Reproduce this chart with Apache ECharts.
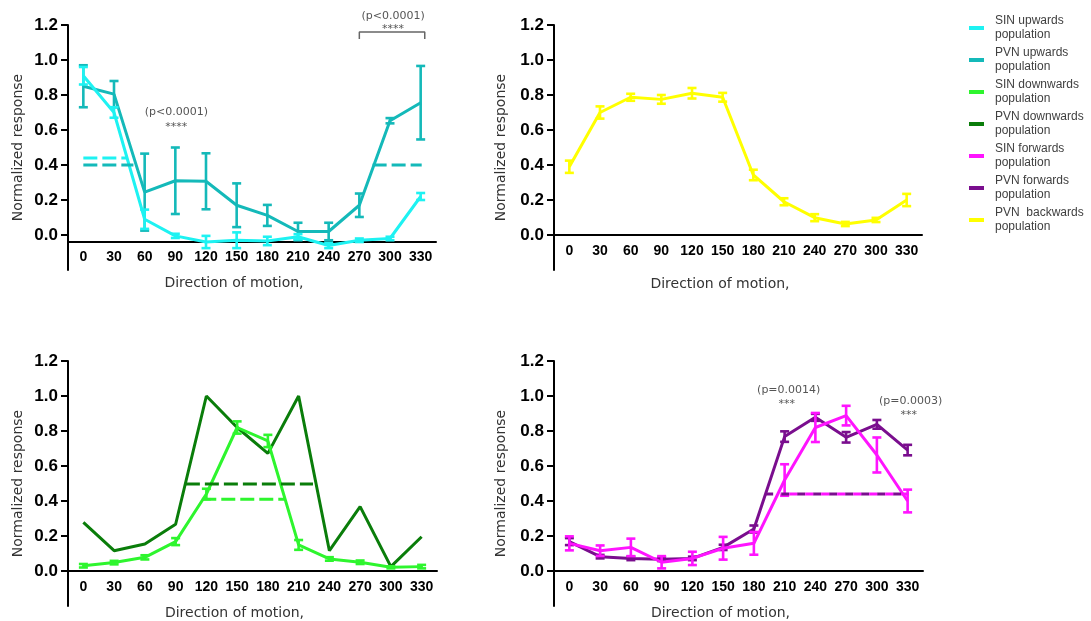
<!DOCTYPE html>
<html>
<head>
<meta charset="utf-8">
<script src="https://cdn.jsdelivr.net/npm/echarts@6/dist/echarts.min.js"></script>
<style>
  html, body { margin: 0; padding: 0; background: #fff; }
  #chart { width: 1091px; height: 621px; }
</style>
</head>
<body>
<div id="chart"></div>
<script>
// Direction of motion (degrees) and y tick values
const directions = ['0', '30', '60', '90', '120', '150', '180', '210', '240', '270', '300', '330'];
const yTicks = [0, 0.2, 0.4, 0.6, 0.8, 1.0, 1.2];

// Upwards populations (mean and SEM)
const sinUpMean = [0.91, 0.70, 0.09, -0.005, -0.04, -0.03, -0.034, -0.01, -0.06, -0.03, -0.02, 0.22];
const sinUpSem  = [0.05, 0.03, 0.055, 0.012, 0.035, 0.045, 0.024, 0.015, 0.015, 0.01, 0.01, 0.02];
const pvnUpMean = [0.85, 0.805, 0.245, 0.31, 0.307, 0.17, 0.112, 0.02, 0.02, 0.17, 0.653, 0.756];
const pvnUpSem  = [0.12, 0.075, 0.22, 0.19, 0.16, 0.125, 0.06, 0.05, 0.05, 0.067, 0.015, 0.21];

// Backwards population
const pvnBackMean = [0.39, 0.70, 0.787, 0.775, 0.81, 0.787, 0.343, 0.19, 0.099, 0.063, 0.086, 0.20];
const pvnBackSem  = [0.035, 0.035, 0.02, 0.025, 0.03, 0.025, 0.03, 0.02, 0.02, 0.012, 0.012, 0.035];

// Downwards populations
const sinDownMean = [0.03, 0.048, 0.078, 0.168, 0.44, 0.82, 0.743, 0.149, 0.069, 0.05, 0.021, 0.025];
const sinDownSem  = [0.01, 0.01, 0.012, 0.02, 0.03, 0.035, 0.035, 0.028, 0.01, 0.01, 0.006, 0.01];
const pvnDownMean = [0.278, 0.116, 0.154, 0.267, 1.0, 0.82, 0.672, 1.0, 0.116, 0.368, 0.025, 0.196];

// Forwards populations
const sinFwdMean = [0.158, 0.116, 0.135, 0.05, 0.072, 0.13, 0.158, 0.52, 0.82, 0.888, 0.663, 0.40];
const sinFwdSem  = [0.04, 0.03, 0.05, 0.035, 0.038, 0.065, 0.065, 0.09, 0.083, 0.056, 0.10, 0.065];
const pvnFwdMean = [0.168, 0.082, 0.072, 0.067, 0.072, 0.135, 0.24, 0.768, 0.878, 0.764, 0.838, 0.691];
const pvnFwdSem  = [0.02, 0.01, 0.01, 0.01, 0.01, 0.015, 0.02, 0.03, 0.02, 0.03, 0.025, 0.03];

// Half-maximum levels: [startDeg, endDeg, level]
const sinUpHalf   = [[0, 42, 0.44]];
const pvnUpHalf   = [[0, 49, 0.40], [283, 331, 0.40]];
const pvnDownHalf = [[100, 224, 0.497]];
const sinDownHalf = [[116, 196, 0.41]];
const pvnFwdHalf  = [[191, 331, 0.44]];
const sinFwdHalf  = [[206, 331, 0.44]];

// Significance annotations
const bracketUp = [[270, 1.12], [270, 1.16], [334, 1.16], [334, 1.12]];
const annotations = [
  { grid: 0, x: 91,  y: 0.70,  text: '(p<0.0001)' },
  { grid: 0, x: 91,  y: 0.615, text: '****' },
  { grid: 0, x: 303, y: 1.251, text: '(p<0.0001)' },
  { grid: 0, x: 303, y: 1.175, text: '****' },
  { grid: 3, x: 214, y: 1.034, text: '(p=0.0014)' },
  { grid: 3, x: 212, y: 0.952, text: '***' },
  { grid: 3, x: 333, y: 0.971, text: '(p=0.0003)' },
  { grid: 3, x: 331, y: 0.892, text: '***' }
];

const legendNames = [
  'SIN upwards population', 'PVN upwards population',
  'SIN downwards population', 'PVN downwards population',
  'SIN forwards population', 'PVN forwards population',
  'PVN  backwards population'
];

const colors = {
  sinUp: '#1EF2F2', pvnUp: '#14B9B9',
  sinDown: '#2EF52E', pvnDown: '#0A7D0A',
  sinFwd: '#FF14FF', pvnFwd: '#7A0E8E',
  pvnBack: '#FFFF00'
};

const Y_MIN = -0.2, Y_MAX = 1.2;
// grid boxes and where the x axis crosses the y axis
const grids = [
  { left: 68,  top: 25,  width: 368, height: 245, cross: -0.037, nameGapX: 35, nameGapY: 43 },
  { left: 554, top: 25,  width: 368, height: 245, cross: 0,      nameGapX: 42, nameGapY: 46 },
  { left: 68,  top: 361, width: 369, height: 245, cross: 0,      nameGapX: 35, nameGapY: 43 },
  { left: 554, top: 361, width: 369, height: 245, cross: 0,      nameGapX: 35, nameGapY: 46 }
];

const tickFont = 'Liberation Sans';
const titleFont = 'DejaVu Sans';

const xAxes = [], yAxes = [];
grids.forEach((g, i) => {
  const offset = -((g.cross - Y_MIN) / (Y_MAX - Y_MIN)) * g.height;
  xAxes.push({
    type: 'category', gridIndex: i, data: directions, boundaryGap: true,
    position: 'bottom', offset: offset,
    axisLine: { onZero: false, lineStyle: { color: '#000', width: 2 } },
    axisTick: { alignWithLabel: true, length: 5, lineStyle: { color: '#000', width: 2 } },
    axisLabel: { color: '#000', fontFamily: tickFont, fontWeight: 'bold', fontSize: 14, margin: 9 },
    name: 'Direction of motion,', nameLocation: 'middle', nameGap: g.nameGapX,
    nameTextStyle: { fontFamily: titleFont, fontSize: 14, color: '#333', padding: [0, 36, 0, 0] },
    splitLine: { show: false }
  });
  xAxes.push({
    type: 'value', gridIndex: i, min: -15, max: 345, show: false
  });
  yAxes.push({
    type: 'value', gridIndex: i, min: Y_MIN, max: Y_MAX, interval: 0.2,
    axisLine: { show: true, onZero: false, lineStyle: { color: '#000', width: 2 } },
    axisTick: { show: true, length: 7, customValues: yTicks, lineStyle: { color: '#000', width: 2 } },
    axisLabel: {
      customValues: yTicks, color: '#000', fontFamily: tickFont, fontWeight: 'bold',
      fontSize: 17, margin: 10,
      formatter: v => (v < -0.01 ? '' : Number(v).toFixed(1))
    },
    name: 'Normalized response', nameLocation: 'middle', nameGap: g.nameGapY,
    nameTextStyle: { fontFamily: titleFont, fontSize: 14, color: '#333' },
    splitLine: { show: false }
  });
});

function errorBarItem(params, api) {
  const x = api.value(0);
  const top = api.coord([x, api.value(2)]);
  const bot = api.coord([x, api.value(1)]);
  const hw = 4.5;
  const style = { stroke: api.visual('color'), lineWidth: 2.6 };
  return {
    type: 'group',
    children: [
      { type: 'line', shape: { x1: top[0], y1: top[1], x2: bot[0], y2: bot[1] }, style },
      { type: 'line', shape: { x1: top[0] - hw, y1: top[1], x2: top[0] + hw, y2: top[1] }, style },
      { type: 'line', shape: { x1: bot[0] - hw, y1: bot[1], x2: bot[0] + hw, y2: bot[1] }, style }
    ]
  };
}

function lineSeries(name, grid, mean, color, z) {
  return {
    name, type: 'line', xAxisIndex: grid * 2, yAxisIndex: grid,
    data: mean, showSymbol: false, symbol: 'none', z: z || 2,
    lineStyle: { color, width: 3 }, itemStyle: { color },
    emphasis: { disabled: true }
  };
}

function errorSeries(name, grid, mean, sem, color, z) {
  return {
    name: name + ' SEM', type: 'custom', xAxisIndex: grid * 2, yAxisIndex: grid,
    renderItem: errorBarItem, itemStyle: { color }, z: z || 2,
    encode: { x: 0, y: [1, 2] },
    data: mean.map((m, i) => [i, m - sem[i], m + sem[i]])
  };
}

function halfSeries(name, grid, segs, color, dash, dashOffset, z) {
  const data = [];
  segs.forEach((s, k) => {
    if (k > 0) data.push([null, null]);
    data.push([s[0], s[2]], [s[1], s[2]]);
  });
  return {
    name: name + ' half-max', type: 'line', xAxisIndex: grid * 2 + 1, yAxisIndex: grid,
    data, showSymbol: false, symbol: 'none', connectNulls: false, z: z || 3,
    lineStyle: { color, width: 3, type: dash, dashOffset: dashOffset || 0 },
    emphasis: { disabled: true }
  };
}

const series = [
  // upwards
  lineSeries('PVN upwards population', 0, pvnUpMean, colors.pvnUp, 2),
  errorSeries('PVN upwards population', 0, pvnUpMean, pvnUpSem, colors.pvnUp, 2),
  lineSeries('SIN upwards population', 0, sinUpMean, colors.sinUp, 3),
  errorSeries('SIN upwards population', 0, sinUpMean, sinUpSem, colors.sinUp, 3),
  halfSeries('SIN upwards', 0, sinUpHalf, colors.sinUp, [14, 5]),
  halfSeries('PVN upwards', 0, pvnUpHalf, colors.pvnUp, [14, 5]),
  {
    name: 'bracket', type: 'line', xAxisIndex: 1, yAxisIndex: 0, data: bracketUp,
    showSymbol: false, symbol: 'none', lineStyle: { color: '#666', width: 1.5 },
    emphasis: { disabled: true }
  },
  // backwards
  lineSeries('PVN  backwards population', 1, pvnBackMean, colors.pvnBack),
  errorSeries('PVN  backwards population', 1, pvnBackMean, pvnBackSem, colors.pvnBack),
  // downwards
  lineSeries('PVN downwards population', 2, pvnDownMean, colors.pvnDown, 2),
  lineSeries('SIN downwards population', 2, sinDownMean, colors.sinDown, 3),
  errorSeries('SIN downwards population', 2, sinDownMean, sinDownSem, colors.sinDown, 3),
  halfSeries('PVN downwards', 2, pvnDownHalf, colors.pvnDown, [14, 5]),
  halfSeries('SIN downwards', 2, sinDownHalf, colors.sinDown, [14, 5]),
  // forwards
  lineSeries('PVN forwards population', 3, pvnFwdMean, colors.pvnFwd, 2),
  errorSeries('PVN forwards population', 3, pvnFwdMean, pvnFwdSem, colors.pvnFwd, 2),
  lineSeries('SIN forwards population', 3, sinFwdMean, colors.sinFwd, 3),
  errorSeries('SIN forwards population', 3, sinFwdMean, sinFwdSem, colors.sinFwd, 3),
  halfSeries('PVN forwards', 3, pvnFwdHalf, colors.pvnFwd, [8, 8], 0, 4),
  halfSeries('SIN forwards', 3, sinFwdHalf, colors.sinFwd, [8, 8], 7.35, 5)
];

const chart = echarts.init(document.getElementById('chart'), null, { renderer: 'canvas' });
chart.setOption({
  animation: false,
  backgroundColor: '#fff',
  grid: grids.map(g => ({ left: g.left, top: g.top, width: g.width, height: g.height, containLabel: false })),
  xAxis: xAxes,
  yAxis: yAxes,
  legend: {
    orient: 'vertical', left: 969, top: 14, padding: 0,
    itemWidth: 15, itemHeight: 4, itemGap: 4, icon: 'rect',
    selectedMode: false,
    data: legendNames,
    formatter: n => n.replace(' population', '\npopulation'),
    textStyle: { fontFamily: 'Liberation Sans', fontSize: 12, lineHeight: 14, color: '#404040', padding: [0, 0, 0, 6] }
  },
  series
});

// significance labels placed through the axes of their panel
const graphic = annotations.map(a => {
  const p = chart.convertToPixel({ xAxisIndex: a.grid * 2 + 1, yAxisIndex: a.grid }, [a.x, a.y]);
  return {
    type: 'text', x: p[0], y: p[1], silent: true,
    style: {
      text: a.text, fill: '#555', font: '11px "DejaVu Sans"',
      textAlign: 'center', textVerticalAlign: 'middle'
    }
  };
});
chart.setOption({ graphic });
</script>
</body>
</html>
